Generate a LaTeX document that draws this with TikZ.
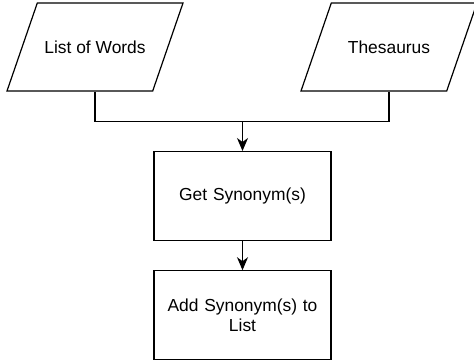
\documentclass[tikz,border=0pt]{standalone}
\usepackage{fontspec}
\setmainfont{Liberation Sans}
\usepackage{tikz}
\usetikzlibrary{shapes.geometric, arrows.meta, positioning}
\tikzstyle{io} = [trapezium, trapezium left angle=71, trapezium right angle=109, trapezium stretches body=true, minimum width=176pt, text height=12.5pt, text depth=0pt, inner xsep=0pt, inner ysep=37.75pt, text centered, draw=black, line width=1.2pt, fill=white]
\tikzstyle{process} = [rectangle, minimum width=177pt, minimum height=89pt, text width=170pt, text centered, draw=black, line width=1.2pt, fill=white, align=center]
\tikzstyle{line} = [line width=1.2pt]
\tikzstyle{arrow} = [line width=1.2pt, -{Stealth[length=13pt, width=11pt, inset=4pt]}]

\begin{document}
\begin{tikzpicture}[x=1pt, y=1pt, font=\fontsize{17.4}{20.5}\selectfont]
            \useasboundingbox (0,0) rectangle (474,-360);
            \node[io] (words) at (95,-47) {List of Words};
            \node[io] (thes) at (389,-47) {Thesaurus};
            \coordinate (join) at (242.5,-121.5);
            \node[process, below=29.5pt of join] (get) {Get Synonym(s)};
            \node[process, below=29pt of get] (add) {Add Synonym(s) to\\List};
            
            \draw[line] (words.south) |- (join);
            \draw[line] (thes.south) |- (join);
            \draw[arrow] (join) -- (get);
            \draw[arrow] (get) -- (add);
        \end{tikzpicture}
\end{document}
